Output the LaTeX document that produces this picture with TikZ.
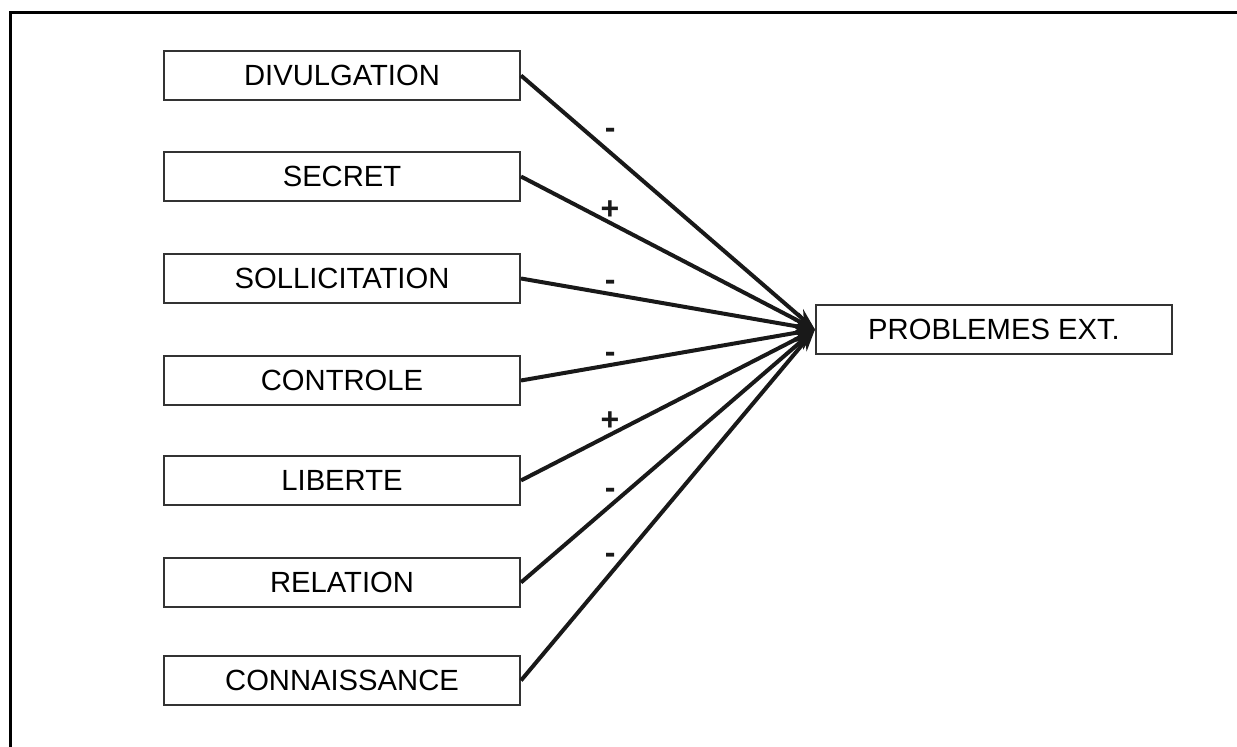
\documentclass[tikz,border=0pt]{standalone}
\usepackage{fontspec}
\setmainfont{Liberation Sans}
\usetikzlibrary{arrows.meta}

\begin{document}
\begin{tikzpicture}[x=0.5pt, y=-0.5pt, >={Stealth[length=11pt,width=7.5pt]},
		font=\fontsize{14.6}{17}\selectfont,
		box/.style={draw=black!80, line width=1pt, minimum width=178pt, minimum height=24.5pt, inner sep=0pt},
		link/.style={->, line width=2pt, black!90},
		sign/.style={font=\fontsize{16}{18}\selectfont\bfseries, inner sep=0pt, pos=0.303}]
		\useasboundingbox (0,0) rectangle (1237,747);
		\draw[line width=1.5pt] (10,747) -- (10,13) -- (1237,13);
		\node[box] (div) at (342,75.5) {DIVULGATION};
		\node[box] (sec) at (342,176.5) {SECRET};
		\node[box] (sol) at (342,278.5) {SOLLICITATION};
		\node[box] (con) at (342,380.5) {CONTROLE};
		\node[box] (lib) at (342,480.5) {LIBERTE};
		\node[box] (rel) at (342,582.5) {RELATION};
		\node[box] (kno) at (342,680.5) {CONNAISSANCE};
		\node[box] (prob) at (994,329.5) {PROBLEMES EXT.};
		\draw[link] (div.east) -- node[sign, yshift=9.5pt] {-} (prob.west);
		\draw[link] (sec.east) -- node[sign, yshift=6.5pt] {+} (prob.west);
		\draw[link] (sol.east) -- node[sign, yshift=4.5pt] {-} (prob.west);
		\draw[link] (con.east) -- node[sign, yshift=4pt] {-} (prob.west);
		\draw[link] (lib.east) -- node[sign, yshift=7pt] {+} (prob.west);
		\draw[link] (rel.east) -- node[sign, yshift=6pt] {-} (prob.west);
		\draw[link] (kno.east) -- node[sign, yshift=8pt] {-} (prob.west);
	\end{tikzpicture}
\end{document}
